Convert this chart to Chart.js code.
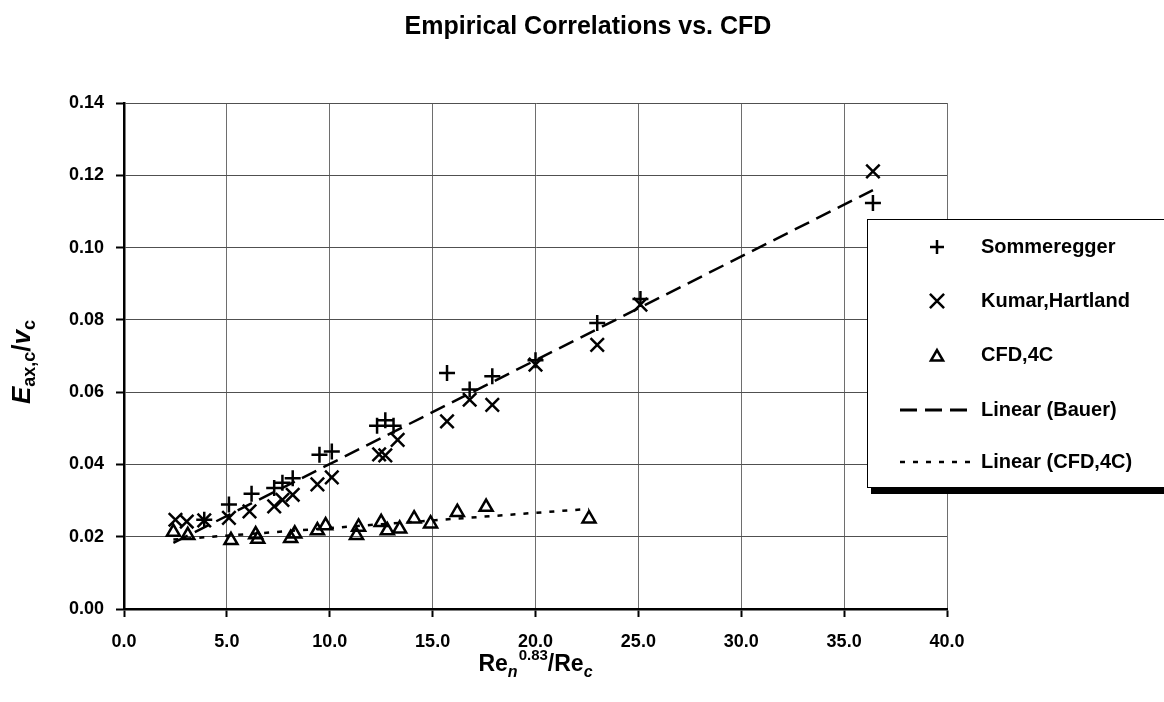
<!DOCTYPE html>
<html><head><meta charset="utf-8">
<script src="https://cdn.jsdelivr.net/npm/chart.js@4/dist/chart.umd.min.js"></script>
<style>html,body{margin:0;padding:0;background:#fff;}#wrap{width:1164px;height:702px;}</style>
</head><body><div id="wrap"><canvas id="c" width="1164" height="702"></canvas></div>
<script>
const xTickLabels = ['0.0','5.0','10.0','15.0','20.0','25.0','30.0','35.0','40.0'];
const yTickLabels = ['0.00','0.02','0.04','0.06','0.08','0.10','0.12','0.14'];

const somX = [3.9,5.1,6.2,7.3,7.7,8.2,9.5,10.1,12.3,12.7,13.1,15.7,16.8,17.9,20.0,23.0,25.1,36.4];
const somY = [0.0247,0.0289,0.0319,0.0335,0.0349,0.0362,0.0427,0.0436,0.0507,0.0522,0.0507,0.0653,0.0607,0.0644,0.0688,0.0791,0.0858,0.1123];
const kumX = [2.5,3.05,3.9,5.1,6.1,7.3,7.7,8.2,9.4,10.1,12.4,12.7,13.3,15.7,16.8,17.9,20.0,23.0,25.1,36.4];
const kumY = [0.0247,0.0242,0.0245,0.0252,0.0270,0.0284,0.0302,0.0316,0.0345,0.0364,0.0428,0.0425,0.0468,0.0519,0.0579,0.0565,0.0676,0.0731,0.0842,0.1211];
const cfdX = [2.4,3.1,5.2,6.4,6.5,8.1,8.3,9.4,9.8,11.3,11.4,12.5,12.8,13.4,14.1,14.9,16.2,17.6,22.6];
const cfdY = [0.0213,0.0204,0.0190,0.0206,0.0194,0.0196,0.0208,0.0217,0.0231,0.0204,0.0227,0.0240,0.0217,0.0222,0.0250,0.0236,0.0268,0.0282,0.0250];
const bauerX = [2.4,36.4];
const bauerY = [0.0183,0.1159];
const cfdFitX = [2.4,22.6];
const cfdFitY = [0.0192,0.0277];

const pts = (xs, ys) => xs.map((x, i) => ({x: x, y: ys[i]}));
const FAM = '"Liberation Sans", Arial, sans-serif';
Chart.defaults.font.family = FAM;

function drawRich(ctx, segs, cx, cy, rot) {
  ctx.save();
  ctx.translate(cx, cy);
  if (rot) ctx.rotate(rot);
  let total = 0;
  segs.forEach(s => { ctx.font = s.f; s.w = ctx.measureText(s.t).width; total += s.w + (s.gap || 0); });
  let x = -total / 2;
  ctx.fillStyle = '#000';
  ctx.textBaseline = 'alphabetic';
  ctx.textAlign = 'left';
  segs.forEach(s => { ctx.font = s.f; ctx.fillText(s.t, x, s.dy || 0); x += s.w + (s.gap || 0); });
  ctx.restore();
}

function marker(ctx, style, x, y, r) {
  ctx.beginPath();
  if (style === 'cross') {
    ctx.moveTo(x - r, y); ctx.lineTo(x + r, y); ctx.moveTo(x, y - r); ctx.lineTo(x, y + r);
  } else if (style === 'crossRot') {
    const d = r * Math.SQRT1_2;
    ctx.moveTo(x - d, y - d); ctx.lineTo(x + d, y + d); ctx.moveTo(x + d, y - d); ctx.lineTo(x - d, y + d);
  } else {
    const a = 2 * Math.PI / 3;
    ctx.moveTo(x, y - r);
    ctx.lineTo(x + Math.sin(a) * r, y - Math.cos(a) * r);
    ctx.lineTo(x + Math.sin(2 * a) * r, y - Math.cos(2 * a) * r);
    ctx.closePath();
  }
  ctx.stroke();
}

const decor = {
  id: 'decor',
  afterDraw(chart) {
    const ctx = chart.ctx;
    const ca = chart.chartArea;
    // title
    ctx.save();
    ctx.fillStyle = '#000';
    ctx.font = 'bold 25px ' + FAM;
    ctx.textAlign = 'center';
    ctx.textBaseline = 'middle';
    ctx.fillText('Empirical Correlations vs. CFD', 588, 27);
    ctx.restore();
    // x title
    const cxT = (ca.left + ca.right) / 2;
    drawRich(ctx, [
      {t: 'Re', f: 'bold 23px ' + FAM},
      {t: 'n', f: 'italic bold 16px ' + FAM, dy: 6, gap: 1},
      {t: '0.83', f: 'bold 15px ' + FAM, dy: -11},
      {t: '/Re', f: 'bold 23px ' + FAM},
      {t: 'c', f: 'italic bold 16px ' + FAM, dy: 6}
    ], cxT, 671, 0);
    // y title
    drawRich(ctx, [
      {t: 'E', f: 'italic bold 26px ' + FAM},
      {t: 'ax,c', f: 'bold 18px ' + FAM, dy: 5},
      {t: '/', f: 'bold 26px ' + FAM},
      {t: 'v', f: 'italic bold 26px ' + FAM},
      {t: 'c', f: 'bold 18px ' + FAM, dy: 5}
    ], 30, 362, -Math.PI / 2);
    // legend
    ctx.save();
    ctx.fillStyle = '#000';
    ctx.fillRect(871, 488, 293, 6);
    ctx.fillStyle = '#fff';
    ctx.fillRect(867.5, 219.5, 300, 268);
    ctx.strokeStyle = '#000';
    ctx.lineWidth = 1;
    ctx.strokeRect(867.5, 219.5, 300, 268);
    const rows = [247, 301, 355, 410, 462];
    const names = ['Sommeregger', 'Kumar,Hartland', 'CFD,4C', 'Linear (Bauer)', 'Linear (CFD,4C)'];
    ctx.lineWidth = 2.5;
    marker(ctx, 'cross', 937, rows[0], 7);
    marker(ctx, 'crossRot', 937, rows[1], 10);
    marker(ctx, 'triangle', 937, rows[2] + 2, 7);
    ctx.lineWidth = 3;
    ctx.setLineDash([17, 8]);
    ctx.beginPath(); ctx.moveTo(900, rows[3]); ctx.lineTo(975, rows[3]); ctx.stroke();
    ctx.lineWidth = 2.5;
    ctx.setLineDash([5, 8]);
    ctx.beginPath(); ctx.moveTo(900, rows[4]); ctx.lineTo(970, rows[4]); ctx.stroke();
    ctx.setLineDash([]);
    ctx.fillStyle = '#000';
    ctx.font = 'bold 20px ' + FAM;
    ctx.textAlign = 'left';
    ctx.textBaseline = 'middle';
    names.forEach((n, i) => ctx.fillText(n, 981, rows[i]));
    ctx.restore();
  }
};

new Chart(document.getElementById('c'), {
  type: 'scatter',
  data: {
    datasets: [
      {label: 'Sommeregger', data: pts(somX, somY), pointStyle: 'cross', pointRadius: 8, pointHoverRadius: 8,
       borderColor: '#000', backgroundColor: '#000', pointBorderWidth: 2.5, showLine: false},
      {label: 'Kumar,Hartland', data: pts(kumX, kumY), pointStyle: 'crossRot', pointRadius: 9.5, pointHoverRadius: 9.5,
       borderColor: '#000', backgroundColor: '#000', pointBorderWidth: 2.5, showLine: false},
      {label: 'CFD,4C', data: pts(cfdX, cfdY), pointStyle: 'triangle', pointRadius: 7.5, pointHoverRadius: 7.5,
       borderColor: '#000', pointBackgroundColor: 'rgba(0,0,0,0)', backgroundColor: 'rgba(0,0,0,0)', pointBorderWidth: 2.5, showLine: false},
      {label: 'Linear (Bauer)', data: pts(bauerX, bauerY), showLine: true, pointRadius: 0, borderColor: '#000',
       borderWidth: 2.5, borderDash: [16, 8], fill: false},
      {label: 'Linear (CFD,4C)', data: pts(cfdFitX, cfdFitY), showLine: true, pointRadius: 0, borderColor: '#000',
       borderWidth: 2.5, borderDash: [5, 8], fill: false}
    ]
  },
  options: {
    responsive: false,
    animation: false,
    devicePixelRatio: 1,
    layout: {padding: {top: 103, right: 217, left: 0, bottom: 0}},
    plugins: {legend: {display: false}, tooltip: {enabled: false}, title: {display: false}},
    scales: {
      x: {
        type: 'linear', min: 0, max: 40,
        afterFit: s => { s.height = 93; },
        ticks: {stepSize: 5, color: '#000', font: {size: 18, weight: 'bold'}, padding: 14,
          callback: (v, i) => xTickLabels[i]},
        grid: {color: '#6e6e6e', lineWidth: 1, tickLength: 8, tickColor: '#000', tickWidth: 2},
        border: {display: true, color: '#000', width: 2.5}
      },
      y: {
        type: 'linear', min: 0, max: 0.14,
        afterFit: s => { s.width = 124; },
        ticks: {stepSize: 0.02, color: '#000', font: {size: 18, weight: 'bold'}, padding: 12,
          callback: (v, i) => yTickLabels[i]},
        grid: {color: '#505050', lineWidth: 1, tickLength: 8, tickColor: '#000', tickWidth: 2},
        border: {display: true, color: '#000', width: 2.5}
      }
    }
  },
  plugins: [decor]
});
</script>
</body></html>
